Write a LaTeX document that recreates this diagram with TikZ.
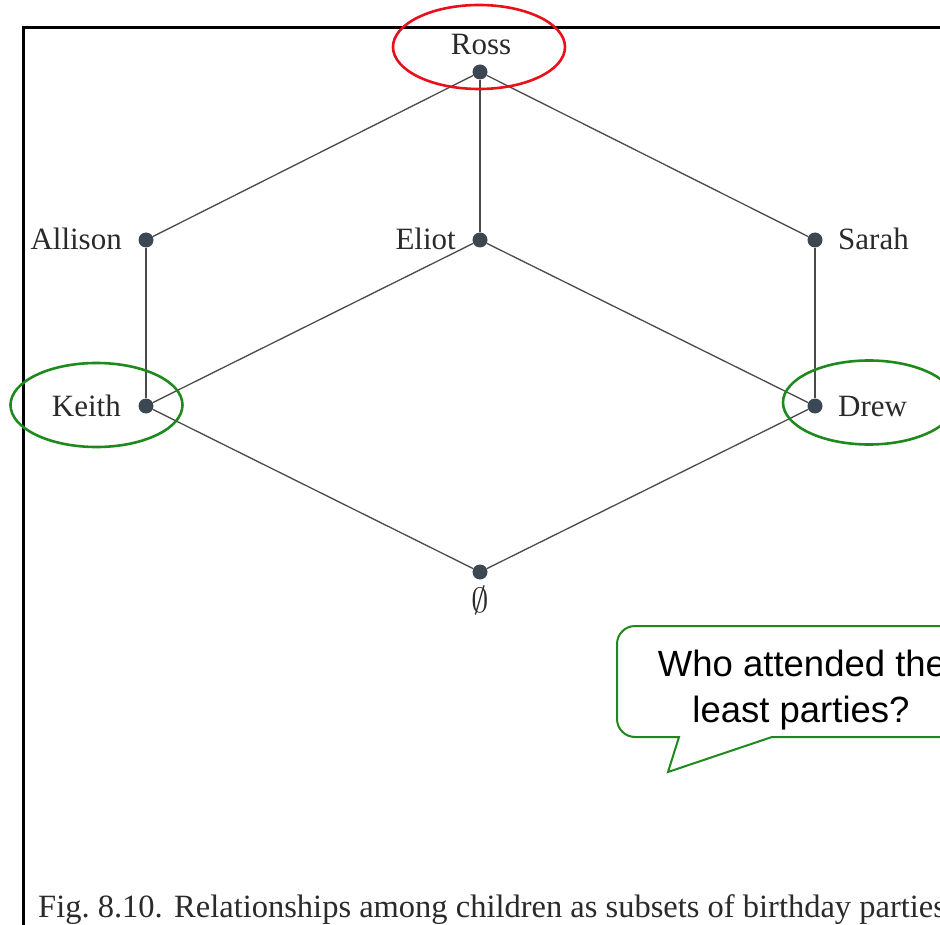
\documentclass[tikz,border=0pt]{standalone}
\usepackage{fontspec}
\setmainfont{Liberation Serif}
\newfontfamily\calloutfont{Liberation Sans}
\definecolor{dotgray}{HTML}{3B4853}
\definecolor{linegray}{HTML}{4A4A4A}
\definecolor{textgray}{HTML}{2A2A2A}
\definecolor{ringred}{HTML}{E8101A}
\definecolor{ringgreen}{HTML}{1E8A1E}
\frenchspacing
\begin{document}
\begin{tikzpicture}[x=1pt,y=-1pt,
  dot/.style={circle,fill=dotgray,inner sep=0pt,minimum size=15pt},
  link/.style={draw=linegray,line width=1.3pt},
  lbl/.style={font=\fontsize{31}{31}\selectfont,text=textgray,inner sep=0pt},
  ring/.style={line width=2.6pt},
  callout/.style={draw=ringgreen,line width=2pt,fill=white},
  qtext/.style={font=\calloutfont\fontsize{36.5}{46}\selectfont,inner sep=0pt,anchor=base},
]
\useasboundingbox (0,0) rectangle (940,925);
\clip (0,0) rectangle (940,925);

% page frame (only the left and top edges fall inside the view)
\draw[line width=3pt] (23.5,1000) -- (23.5,27.5) -- (1000,27.5);

% elements of the lattice
\node[dot] (ross)    at (480,72)  {};
\node[dot] (allison) at (146,240) {};
\node[dot] (eliot)   at (480,240) {};
\node[dot] (sarah)   at (815,240) {};
\node[dot] (keith)   at (146,406) {};
\node[dot] (drew)    at (815,406) {};
\node[dot] (empty)   at (480,572) {};

% covering relations
\path[link] (ross) -- (allison);
\path[link] (ross) -- (eliot);
\path[link] (ross) -- (sarah);
\path[link] (allison) -- (keith);
\path[link] (eliot) -- (keith);
\path[link] (eliot) -- (drew);
\path[link] (sarah) -- (drew);
\path[link] (keith) -- (empty);
\path[link] (drew) -- (empty);

% names
\node[lbl,anchor=base]      (rossname)    at (481,55)  {Ross};
\node[lbl,anchor=base east] (allisonname) at (122,250) {Allison};
\node[lbl,anchor=base east] (eliotname)   at (456,250) {Eliot};
\node[lbl,anchor=base west] (sarahname)   at (838,250) {Sarah};
\node[lbl,anchor=base east] (keithname)   at (121,416) {Keith};
\node[lbl,anchor=base west] (drewname)    at (838,416) {Drew};
\node[inner sep=0pt,text=textgray] (emptyname) at (480,600)
  {\scalebox{3.5}{$\emptyset$}};

% highlight rings
\draw[ring,ringred]   (479,47)  ellipse [x radius=86, y radius=42];
\draw[ring,ringgreen] (96.5,405) ellipse [x radius=86, y radius=42];
\draw[ring,ringgreen] (869,402.5) ellipse [x radius=86, y radius=42];

% speech bubble
\draw[callout] (679,737) [rounded corners=18] -- (617,737) -- (617,626)
  -- (990,626) -- (990,737) [sharp corners] -- (772,737) -- (668,772) -- cycle;
\node[qtext] (q1) at (802,676) {Who attended the};
\node[qtext] (q2) at (801,722) {least parties?};

% caption
\node[anchor=base west,inner sep=0pt,text=textgray,font=\fontsize{32.5}{32.5}\selectfont]
  (caption) at (38,917)
  {Fig. 8.10.\hspace{0.1em} Relationships among children as subsets of birthday parties};
\end{tikzpicture}
\end{document}
